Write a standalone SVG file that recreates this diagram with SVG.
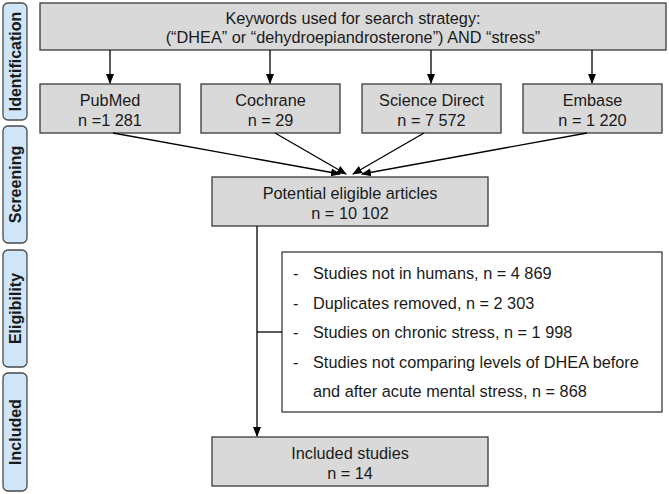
<svg xmlns="http://www.w3.org/2000/svg" width="669" height="494" viewBox="0 0 669 494">
<defs>
<marker id="ah" markerWidth="10" markerHeight="10" refX="9" refY="5" orient="auto" markerUnits="userSpaceOnUse"><path d="M0,1 L10,5 L0,9 Z" fill="#000"/></marker>
<style>
text{font-family:"Liberation Sans",Arial,sans-serif;font-size:16.3px;fill:#1a1a1a}
.box{fill:#d9d9d9;stroke:#3a3a3a;stroke-width:1.3}
.wbox{fill:#fff;stroke:#3a3a3a;stroke-width:1.3}
.side{fill:#cfe5f8;stroke:#4a4a4a;stroke-width:1.3}
.sl{font-weight:bold;font-size:16px}
.c{stroke:#000;stroke-width:1.3;fill:none}
</style>
</defs>
<g id="stages">
<rect class="side" x="3" y="3" width="24" height="117" rx="5"/>
<text class="sl" transform="translate(21,61.5) rotate(-90)" text-anchor="middle">Identification</text>
<rect class="side" x="3" y="126" width="24" height="117" rx="5"/>
<text class="sl" transform="translate(21,184.5) rotate(-90)" text-anchor="middle">Screening</text>
<rect class="side" x="3" y="250" width="24" height="117" rx="5"/>
<text class="sl" transform="translate(21,308.5) rotate(-90)" text-anchor="middle">Eligibility</text>
<rect class="side" x="3" y="373" width="24" height="118" rx="5"/>
<text class="sl" transform="translate(21,432) rotate(-90)" text-anchor="middle">Included</text>
</g>
<g id="keywords"><rect class="box" x="40" y="3" width="626" height="47"/>
<text x="353" y="24" text-anchor="middle">Keywords used for search strategy:</text>
<text x="353" y="43" text-anchor="middle">(“DHEA” or “dehydroepiandrosterone”) AND “stress”</text></g>
<g id="pubmed"><rect class="box" x="40" y="84" width="140" height="49"/>
<text x="110" y="106" text-anchor="middle">PubMed</text><text x="110" y="126" text-anchor="middle">n =1 281</text></g>
<g id="cochrane"><rect class="box" x="201" y="84" width="139" height="49"/>
<text x="270.5" y="106" text-anchor="middle">Cochrane</text><text x="270.5" y="126" text-anchor="middle">n = 29</text></g>
<g id="sciencedirect"><rect class="box" x="362" y="84" width="139" height="49"/>
<text x="431.5" y="106" text-anchor="middle">Science Direct</text><text x="431.5" y="126" text-anchor="middle">n = 7 572</text></g>
<g id="embase"><rect class="box" x="523" y="84" width="139" height="49"/>
<text x="592.5" y="106" text-anchor="middle">Embase</text><text x="592.5" y="126" text-anchor="middle">n = 1 220</text></g>
<g id="potential"><rect class="box" x="212" y="177" width="276" height="49"/>
<text x="350" y="199" text-anchor="middle">Potential eligible articles</text><text x="350" y="219" text-anchor="middle">n = 10 102</text></g>
<g id="exclusions"><rect class="wbox" x="282" y="252" width="380" height="160"/>
<text x="293" y="279">-</text><text x="313" y="279">Studies not in humans, n = 4 869</text>
<text x="293" y="309">-</text><text x="313" y="309">Duplicates removed, n = 2 303</text>
<text x="293" y="338">-</text><text x="313" y="338">Studies on chronic stress, n = 1 998</text>
<text x="293" y="368">-</text><text x="313" y="368">Studies not comparing levels of DHEA before</text>
<text x="313" y="397">and after acute mental stress, n = 868</text></g>
<g id="included"><rect class="box" x="212" y="437" width="276" height="49"/>
<text x="350" y="459" text-anchor="middle">Included studies</text><text x="350" y="479" text-anchor="middle">n = 14</text></g>
<g id="connectors">
<line class="c" x1="110" y1="50" x2="110" y2="83" marker-end="url(#ah)"/>
<line class="c" x1="270" y1="50" x2="270" y2="83" marker-end="url(#ah)"/>
<line class="c" x1="431" y1="50" x2="431" y2="83" marker-end="url(#ah)"/>
<line class="c" x1="592" y1="50" x2="592" y2="83" marker-end="url(#ah)"/>
<line class="c" x1="113" y1="133" x2="340" y2="174" marker-end="url(#ah)"/>
<line class="c" x1="275" y1="133" x2="346" y2="174" marker-end="url(#ah)"/>
<line class="c" x1="424" y1="133" x2="353" y2="174" marker-end="url(#ah)"/>
<line class="c" x1="587" y1="133" x2="362" y2="174" marker-end="url(#ah)"/>
<line class="c" x1="257" y1="226" x2="257" y2="436" marker-end="url(#ah)"/>
<line class="c" x1="257" y1="332" x2="282" y2="332"/>
</g>
</svg>
